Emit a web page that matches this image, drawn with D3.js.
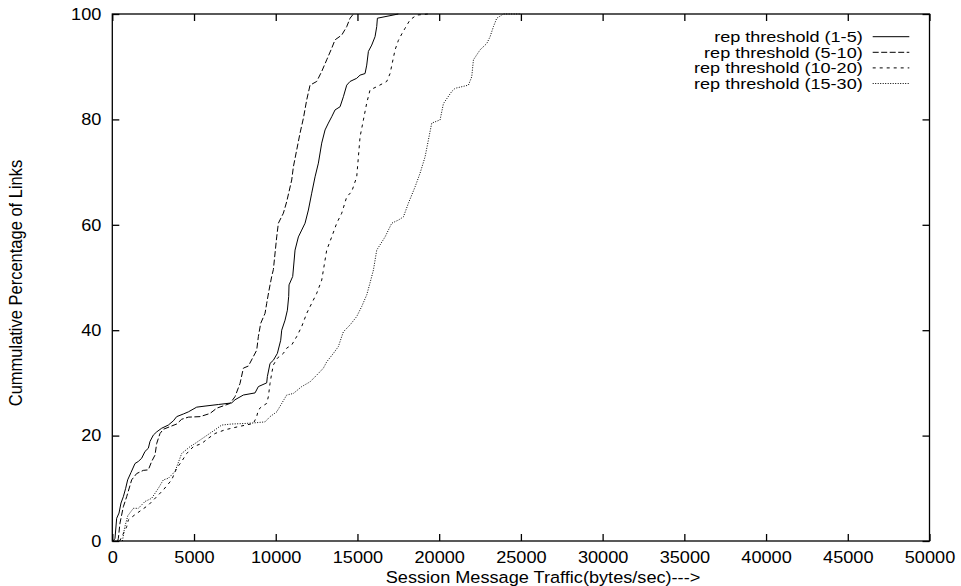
<!DOCTYPE html>
<html>
<head>
<meta charset="utf-8">
<script src="https://cdn.jsdelivr.net/npm/d3@7"></script>
<style>
  body { margin: 0; background: #fff; }
  svg { display: block; }
  text { font-family: "Liberation Sans", Arial, Helvetica, sans-serif; fill: #000; }
</style>
</head>
<body>
<div class="content"></div>
<script>
var svgWidth = 961;   // The width of the SVG element.
var svgHeight = 586;  // The height of the SVG element.

// Plot frame, in pixels.
var margin = {"left" : 112.3, "right" : 31.5, "top" : 14, "bottom" : 45};
var fontSize = 16.5;
var stretch = 1.1;  // Horizontal text stretch of the original picture.

// Tick values.
var xTicks = [0, 5000, 10000, 15000, 20000, 25000, 30000, 35000, 40000, 45000, 50000];
var yTicks = [0, 20, 40, 60, 80, 100];

// Series names.
var seriesNames = ["rep threshold (1-5)", "rep threshold (5-10)", "rep threshold (10-20)", "rep threshold (15-30)"];

// [traffic (bytes/sec), cumulative %] pairs.
var rep1to5 = [[60,0],[165,0.5],[267,4.3],[410,5.3],[532,7.2],[675,8.4],[818,10.0],[940,11.6],[1144,13.0],
	[1389,14.7],[1593,15.1],[1797,15.7],[2001,17.0],[2205,17.6],[2307,18.9],[2511,20.1],[2715,20.7],
	[3021,21.4],[3429,22.0],[3735,22.8],[3939,23.6],[4347,24.1],[4653,24.5],[5163,25.4],[5673,25.6],
	[6489,25.9],[7305,26.2],[7509,26.8],[8019,27.7],[8733,28.1],[8937,29.3],[9447,30.0],[9488,31.2],
	[9651,33.7],[9855,34.3],[10100,35.6],[10304,38.1],[10365,40.0],[10569,41.9],[10712,43.8],[10793,46.4],
	[10814,48.6],[11038,50.2],[11181,55.2],[11385,57.7],[11589,59.0],[11793,60.3],[11997,62.8],[12201,66.0],
	[12405,69.1],[12609,71.7],[12813,75.5],[13017,78.0],[13221,79.3],[13425,80.5],[13629,81.8],[13935,82.4],
	[14139,84.3],[14343,86.5],[14547,87.2],[14955,87.8],[15159,88.4],[15465,88.7],[15567,90.3],[15669,92.9],
	[15873,94.1],[16077,95.7],[16179,97.6],[16220,99.2],[17500,100]];

var rep5to10 = [[330,0],[369,0.5],[471,3.4],[675,6.5],[879,8.4],[1185,11.6],[1491,12.8],[1899,13.4],[2205,13.5],
	[2409,15.1],[2613,16.3],[2715,18.5],[2919,20.4],[3123,21.2],[3531,21.7],[3939,22.2],[4245,23.1],[4653,23.5],
	[5367,23.6],[5673,23.9],[5979,24.2],[6387,25.2],[7203,26.1],[7509,27.4],[7815,29.9],[8019,32.8],[8325,33.2],
	[8631,35.0],[8835,36.2],[8937,38.8],[9080,41.3],[9345,43.2],[9447,45.1],[9590,47.6],[9753,50.2],[9855,51.5],
	[10059,57.7],[10161,60.3],[10467,62.2],[10671,64.4],[10977,68.5],[11079,71.0],[11283,74.2],[11487,77.4],
	[11691,80.2],[11895,83.7],[12099,86.5],[12507,87.2],[12813,89.1],[13119,91.3],[13425,93.5],[13629,95.1],
	[14037,96.0],[14343,97.6],[14547,99.2],[14751,100]];

var rep10to20 = [[450,0],[532,0.5],[879,2.7],[981,4.0],[1389,5.0],[1797,5.9],[2205,6.8],[2715,8.4],[3123,9.7],
	[3633,11.6],[3939,13.8],[4245,15.1],[4551,16.6],[4959,17.9],[5469,18.5],[5877,19.5],[6285,20.4],[6897,21.1],
	[7713,21.7],[8631,22.3],[8835,23.6],[8937,24.9],[9141,25.5],[9447,26.1],[9549,27.4],[9651,29.9],[9753,31.8],
	[9855,33.4],[10100,34.7],[10467,35.6],[10671,36.6],[10977,37.2],[11283,38.8],[11589,40.7],[11895,43.2],
	[12201,45.1],[12507,47.0],[12813,49.5],[12915,51.4],[13119,55.2],[13425,57.7],[13731,60.3],[14037,62.2],
	[14343,65.3],[14649,66.3],[14955,69.1],[15057,72.9],[15159,76.7],[15363,79.9],[15567,83.1],[15771,85.6],
	[16179,86.2],[16791,87.2],[16995,88.7],[17301,93.2],[17505,95.0],[17709,96.2],[17913,97.3],[18219,98.9],
	[18627,99.8],[19341,100]];

var rep15to30 = [[620,0],[750,2.5],[950,4.8],[1287,6.2],[1593,6.2],[2001,7.5],[2409,8.1],[2817,10.0],[3123,11.6],
	[3429,11.9],[3837,13.2],[4245,16.6],[4755,17.9],[5061,18.5],[5673,19.8],[6285,21.1],[6693,22.0],[7305,22.2],
	[8121,22.3],[8631,22.4],[9345,22.6],[9651,23.6],[10059,24.5],[10365,26.1],[10671,27.7],[11079,28.0],
	[11589,29.3],[12099,30.2],[12609,31.8],[12915,32.8],[13119,34.0],[13527,35.6],[13833,36.9],[14037,38.8],
	[14139,39.7],[14547,41.0],[14955,42.6],[15261,44.5],[15567,46.7],[15771,49.0],[15975,51.4],[16179,55.2],
	[16383,56.2],[16689,57.7],[17097,60.3],[17505,60.9],[17811,61.5],[18117,64.1],[18525,67.2],[18831,69.8],
	[19137,72.9],[19341,76.1],[19545,79.3],[20055,79.9],[20259,83.0],[20769,85.3],[20973,85.9],[21789,86.5],
	[21993,88.1],[22095,91.3],[22503,93.2],[22911,94.4],[23115,95.7],[23319,97.6],[23523,99.2],[23931,100],
	[24951,100]];

var seriesData = [rep1to5, rep5to10, rep10to20, rep15to30];
var dashes = ["none", "6,2.5", "3,4", "1,1.5"];

// Create the SVG element.
var svg = d3.select(".content")
	.append("svg")
	.attr("width", svgWidth)
	.attr("height", svgHeight);

var plotRight = svgWidth - margin.right;
var plotBottom = svgHeight - margin.bottom;

var x = d3.scaleLinear().domain([0, 50000]).range([margin.left, plotRight]);
var y = d3.scaleLinear().domain([0, 100]).range([plotBottom, margin.top]);

// Style the tick labels of an axis group.
function styleAxis(g)
{
	g.attr("font-family", null).attr("font-size", null);
	g.select(".domain").remove();
	g.selectAll(".tick line").attr("stroke", "#000").attr("stroke-width", 1.3);
	g.selectAll(".tick text")
		.style("font-size", fontSize + "px")
		.attr("transform", "scale(" + stretch + ",1)");
}

// Ticks point inward on all four sides, labels only left and bottom.
svg.append("g")
	.attr("transform", "translate(0," + plotBottom + ")")
	.call(d3.axisBottom(x).tickValues(xTicks).tickFormat(d3.format("d"))
		.tickSizeInner(-7).tickSizeOuter(0).tickPadding(10.5))
	.call(styleAxis);

svg.append("g")
	.attr("transform", "translate(0," + margin.top + ")")
	.call(d3.axisTop(x).tickValues(xTicks).tickSizeInner(-7).tickSizeOuter(0).tickFormat(""))
	.call(styleAxis);

svg.append("g")
	.attr("transform", "translate(" + margin.left + ",0)")
	.call(d3.axisLeft(y).tickValues(yTicks).tickFormat(d3.format("d"))
		.tickSizeInner(-7).tickSizeOuter(0).tickPadding(10))
	.call(styleAxis);

svg.append("g")
	.attr("transform", "translate(" + plotRight + ",0)")
	.call(d3.axisRight(y).tickValues(yTicks).tickSizeInner(-7).tickSizeOuter(0).tickFormat(""))
	.call(styleAxis);

// Plot border.
svg.append("rect")
	.attr("x", margin.left)
	.attr("y", margin.top)
	.attr("width", plotRight - margin.left)
	.attr("height", plotBottom - margin.top)
	.attr("fill", "none")
	.attr("stroke", "#000")
	.attr("stroke-width", 1.3);

// The curves.
var line = d3.line()
	.x(function(d) { return x(d[0]); })
	.y(function(d) { return y(d[1]); });

svg.selectAll("path.curve")
	.data(seriesData)
	.enter().append("path")
	.classed("curve", true)
	.attr("d", line)
	.attr("fill", "none")
	.attr("stroke", "#000")
	.attr("stroke-width", 1)
	.attr("stroke-dasharray", function(d, i) { return dashes[i]; });

// Legend, top right. Rows sit tight, so the text is a bit smaller and wider.
var legend = svg.selectAll("g.key")
	.data(seriesNames)
	.enter().append("g")
	.classed("key", true)
	.attr("transform", function(d, i) { return "translate(0," + (36.7 + i * 15.6) + ")"; });

legend.append("text")
	.attr("transform", "translate(862.7,5.2) scale(1.3,1)")
	.attr("text-anchor", "end")
	.style("font-size", "13.9px")
	.text(function(d) { return d; });

legend.append("line")
	.attr("x1", 872.7)
	.attr("x2", 909.3)
	.attr("stroke", "#000")
	.attr("stroke-width", 1)
	.attr("stroke-dasharray", function(d, i) { return dashes[i]; });

// Axis titles.
svg.append("text")
	.attr("transform", "translate(543,583) scale(" + stretch + ",1)")
	.attr("text-anchor", "middle")
	.style("font-size", fontSize + "px")
	.text("Session Message Traffic(bytes/sec)--->");

svg.append("text")
	.attr("transform", "translate(22,283) scale(" + stretch + ",1) rotate(-90)")
	.attr("text-anchor", "middle")
	.style("font-size", fontSize + "px")
	.text("Cummulative Percentage of Links");
</script>
</body>
</html>
